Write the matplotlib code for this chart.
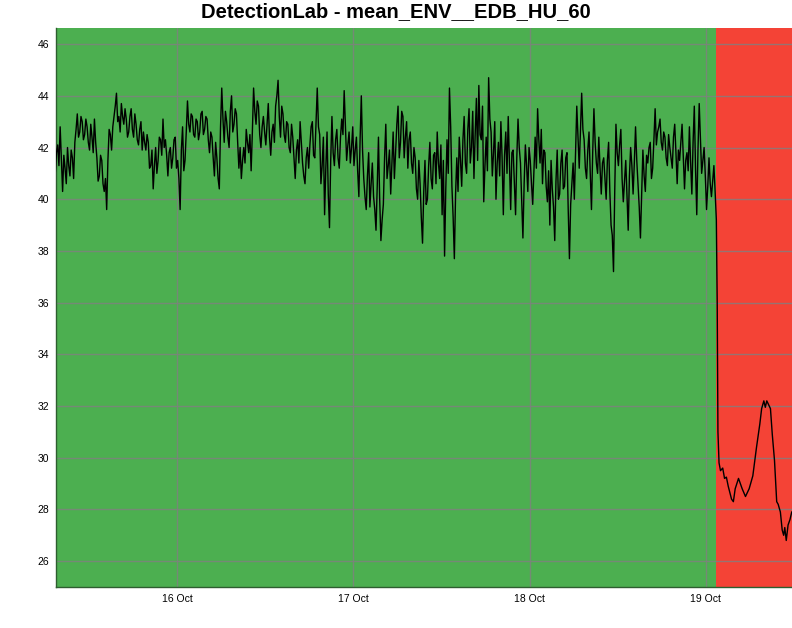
import matplotlib
matplotlib.use("Agg")
import matplotlib.pyplot as plt
import pandas as pd

# ---- data ----
title = "DetectionLab - mean_ENV__EDB_HU_60"
series_start = "2023-10-15 07:26"
series_freq = "10min"
# readings on the hour grid (every 20 min)
normal_values = [
    41.0, 42.1, 42.8, 40.3, 41.2, 42.0, 40.9, 41.6, 42.2, 43.3,
    42.6, 43.0, 42.5, 42.8, 41.9, 42.4, 43.1, 41.6, 40.9, 41.5,
    40.3, 39.6, 42.7, 41.9, 43.2, 44.1, 43.2, 43.7, 42.9, 43.1,
    42.6, 43.5, 42.4, 42.9, 42.1, 43.0, 42.6, 41.9, 42.2, 41.3,
    40.4, 42.0, 41.5, 42.3, 43.1, 42.3, 40.9, 42.0, 41.6, 42.4,
    41.5, 39.6, 42.8, 41.5,
    43.8, 42.6, 43.2, 42.4, 43.0, 42.6, 43.4, 42.7, 43.1, 41.8,
    42.4, 40.9, 41.6, 40.4, 44.3, 42.2, 43.0, 42.0, 44.0, 42.9,
    43.3, 41.2, 40.8, 42.0, 42.7, 41.8, 41.1, 44.3, 42.9, 43.6,
    42.0, 43.2, 42.1, 43.7, 41.7, 42.9, 43.6, 44.6, 42.4, 43.3,
    42.2, 42.9, 41.8, 42.4, 40.8, 42.3, 43.0, 41.4, 40.6, 42.0,
    42.1, 43.0, 41.6, 44.3, 42.5, 41.3, 39.4, 42.6, 38.9, 43.2,
    41.3, 42.7, 41.2, 43.1, 44.2, 41.5, 42.6, 42.0, 41.3, 42.4,
    40.1, 44.0, 40.8, 39.6, 41.8, 40.6, 40.1, 38.8, 42.4, 38.4,
    39.8, 42.9, 41.3, 40.2, 42.6, 41.8, 43.6, 42.2, 43.2, 42.4,
    41.2, 42.6, 41.0, 41.6, 40.0, 40.6, 38.3, 41.5, 40.0, 42.2,
    40.4, 41.8,
    42.6, 40.8, 39.4, 37.8, 42.3, 44.3, 40.5, 37.7, 41.6, 42.4,
    40.5, 43.2, 41.0, 43.5, 42.0, 40.8, 43.9, 44.4, 42.3, 39.9,
    42.4, 44.7, 42.6, 41.8, 40.0, 42.2, 43.0, 39.4, 42.6, 43.2,
    39.6, 41.9, 39.4, 43.1, 41.4, 38.5, 42.1, 40.3, 41.5, 39.8,
    42.4, 43.5, 41.4, 40.6, 41.8, 39.9, 39.0, 40.4, 38.4, 41.9,
    40.2,
    41.9, 40.5, 41.8, 37.7, 40.6, 40.0, 43.6, 41.2, 44.1, 42.3,
    40.8, 42.6, 39.6, 43.5, 41.4, 42.4, 40.2, 41.6, 40.0, 42.2,
    39.0, 37.2, 42.9, 41.3, 42.7, 39.9, 41.5, 38.8, 42.0, 40.2,
    42.8, 40.6, 38.5, 41.9, 40.3, 41.4, 42.2, 41.2, 43.5, 42.6,
    43.1, 41.9, 42.4, 41.3, 42.0, 41.2, 42.9, 40.6, 41.5, 42.9,
    40.4, 41.8, 42.8, 40.2, 43.6, 39.4, 43.7, 41.0, 42.0, 39.6,
    41.6, 40.1, 41.3, 39.2,
]
# readings in between (10 min after each of the above)
between_values = [
    41.8, 41.3, 41.5, 41.7, 40.6, 41.3, 41.9, 40.8, 42.7, 42.4,
    43.2, 42.3, 43.1, 42.2, 42.9, 41.8, 42.2, 40.7, 41.7, 40.6,
    40.8, 41.5, 42.5, 42.8, 43.6, 43.0, 42.6, 43.2, 43.5, 42.4,
    43.2, 42.7, 43.3, 42.3, 42.7, 41.9, 42.2, 42.5, 41.2, 41.9,
    41.3, 41.0, 42.4, 41.7, 42.0, 41.7, 41.8, 41.2, 42.3, 41.2,
    40.8, 41.9, 41.1, 42.6,
    42.9, 43.3, 42.5, 43.1, 42.3, 43.3, 42.5, 43.2, 42.3, 42.6,
    41.6, 42.2, 40.8, 42.8, 43.1, 43.4, 42.4, 43.4, 42.6, 43.5,
    42.2, 42.0, 41.5, 41.4, 42.2, 42.5, 42.6, 43.4, 43.8, 42.5,
    42.8, 42.6, 42.9, 42.4, 42.6, 42.2, 44.0, 43.2, 43.6, 42.5,
    43.0, 42.0, 42.9, 41.6, 41.9, 41.4, 42.2, 40.9, 41.6, 41.2,
    42.8, 41.7, 43.0, 42.8, 40.6, 42.4, 41.2, 40.2, 41.5, 41.8,
    42.3, 41.6, 42.4, 42.5, 42.8, 42.1, 41.4, 42.8, 41.9, 41.1,
    42.3, 41.9, 40.1, 40.9, 39.7, 41.4, 39.6, 40.5, 40.0, 39.2,
    41.6, 40.8, 41.9, 41.4, 40.8, 42.9, 41.6, 43.4, 41.6, 43.0,
    42.3, 41.4, 42.0, 40.4, 41.5, 39.3, 40.3, 39.8, 41.3, 40.8,
    41.7, 40.6,
    41.4, 42.1, 41.5, 40.4, 41.0, 42.8, 39.3, 40.2, 40.3, 41.5,
    42.3, 41.4, 42.7, 41.4, 43.4, 42.5, 41.5, 42.5, 43.6, 41.3,
    41.1, 43.1, 40.9, 43.0, 41.4, 40.9, 41.6, 41.7, 41.0, 41.4,
    41.8, 40.7, 41.6, 42.0, 39.9, 40.6, 41.3, 42.0, 40.6, 41.1,
    41.2, 42.3, 42.7, 41.9, 40.5, 41.1, 41.5, 39.7, 40.7, 40.0,
    41.4,
    40.4, 41.6, 39.6, 39.8, 41.4, 41.8, 42.4, 42.7, 42.7, 41.2,
    41.9, 41.0, 41.8, 42.2, 41.0, 41.2, 41.4, 40.8, 41.5, 40.3,
    38.6, 40.3, 41.8, 42.1, 40.8, 40.7, 40.2, 40.9, 41.3, 41.4,
    41.5, 39.7, 40.2, 40.9, 41.7, 42.0, 40.8, 42.3, 42.1, 42.8,
    42.2, 42.6, 41.6, 42.5, 41.6, 42.4, 41.8, 41.9, 42.2, 41.6,
    41.5, 41.1, 41.4, 42.2, 41.2, 41.9, 42.3, 41.5, 40.9, 40.5,
    40.6, 40.7, 40.3,
]
tail_day = "2023-10-19"
tail_hours = [1.55, 1.65, 1.8, 2.0, 2.3, 2.55, 2.8, 3.05, 3.5, 3.75,
              4.0, 4.45, 4.95, 5.4, 5.9, 6.4, 6.9, 7.35, 7.6, 7.9,
              8.1, 8.3, 8.55, 8.8, 9.05, 9.35, 9.65, 9.85, 10.15, 10.4,
              10.6, 10.75, 10.95, 11.2, 11.45, 11.7]
tail_values = [36.0, 31.0, 29.8, 29.5, 29.6, 29.2, 29.25, 28.9, 28.4, 28.3,
               28.8, 29.2, 28.8, 28.5, 28.8, 29.3, 30.4, 31.3, 31.9, 32.2,
               31.95, 32.2, 32.05, 31.9, 30.9, 29.9, 28.3, 28.2, 27.9, 27.2,
               27.0, 27.3, 26.8, 27.4, 27.6, 27.9]
view_start = "2023-10-15 07:32"
view_end = "2023-10-19 11:44"
anomaly_start = "2023-10-19 01:20"
y_limits = (25.0, 46.62)
y_ticks = [26, 28, 30, 32, 34, 36, 38, 40, 42, 44, 46]
x_ticks = ["2023-10-16", "2023-10-17", "2023-10-18", "2023-10-19"]
x_tick_labels = ["16 Oct", "17 Oct", "18 Oct", "19 Oct"]
ok_color = "#4CAF50"
alert_color = "#F44336"

# ---- build series ----
merged = []
for i, v in enumerate(normal_values):
    merged.append(v)
    if i < len(between_values):
        merged.append(between_values[i])
t_normal = pd.date_range(series_start, periods=len(merged), freq=series_freq)
t_tail = pd.Timestamp(tail_day) + pd.to_timedelta(tail_hours, unit="h")
times = list(t_normal) + list(t_tail)
values = merged + list(tail_values)

plt.rcParams["font.family"] = ["Liberation Sans", "DejaVu Sans"]
fig = plt.figure(figsize=(7.92, 6.28), dpi=100)
ax = fig.add_axes([0.0707, 0.0653, 0.9293, 0.890])

x0, x1 = pd.Timestamp(view_start), pd.Timestamp(view_end)
xa = pd.Timestamp(anomaly_start)
ax.axvspan(x0, xa, color=ok_color, lw=0, zorder=0)
ax.axvspan(xa, x1, color=alert_color, lw=0, zorder=0)

ax.plot(times, values, color="black", lw=1.0, zorder=3)

ax.set_xlim(x0, x1)
ax.set_ylim(*y_limits)
ax.set_yticks(y_ticks)
ax.set_xticks(pd.to_datetime(x_ticks))
ax.set_xticklabels(x_tick_labels)
ax.grid(True, color="#808080", lw=1.0, alpha=0.8)
for gl in ax.get_xgridlines() + ax.get_ygridlines():
    gl.set_zorder(1)

ax.tick_params(axis="both", length=0, labelsize=7.5, pad=5, colors="black")
for s in ["top", "right"]:
    ax.spines[s].set_visible(False)
for s in ["left", "bottom"]:
    ax.spines[s].set_color("#2e5e30")
    ax.spines[s].set_linewidth(1.0)

fig.text(0.5, 0.996, title, ha="center", va="top", fontsize=14.5, fontweight="bold")

fig.savefig("out.png", dpi=100)
